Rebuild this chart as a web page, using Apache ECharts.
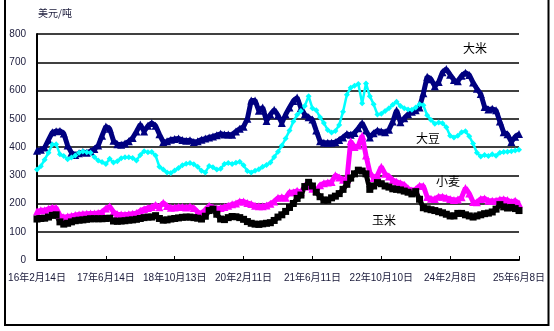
<!DOCTYPE html>
<html>
<head>
<meta charset="utf-8">
<script src="https://cdn.jsdelivr.net/npm/echarts@6/dist/echarts.min.js"></script>
<style>
  html, body { margin: 0; padding: 0; background: #fff; }
  #chart { width: 554px; height: 331px; }
</style>
</head>
<body>
<div id="chart"></div>
<script>
// Sampling: one value every 27 days starting 2016-02-14; axis spans 3402 days
const stepDays = 27;
const spanDays = 3402;
const tickStepDays = 486;
const tickLabels = ['16年2月14日', '17年6月14日', '18年10月13日', '20年2月11日',
  '21年6月11日', '22年10月10日', '24年2月8日', '25年6月8日'];

// Prices in USD per tonne
const riceValues = [
  387, 390, 398, 425, 452, 456, 457, 448, 405, 380,
  372, 378, 382, 380, 385, 393, 405, 440, 473, 465,
  422, 410, 408, 412, 420, 432, 455, 480, 455, 475,
  485, 475, 445, 418, 420, 426, 428, 430, 425, 422,
  424, 418, 420, 426, 430, 434, 437, 442, 447, 444,
  444, 443, 455, 465, 472, 500, 565, 565, 528, 540,
  492, 515, 532, 512, 485, 515, 540, 563, 575, 538,
  515, 505, 497, 458, 420, 415, 415, 415, 417, 425,
  434, 446, 443, 450, 466, 485, 458, 434, 449, 458,
  455, 452, 461, 490, 530, 488, 502, 516, 525, 530,
  540, 590, 649, 640, 615, 630, 665, 676, 656, 637,
  633, 652, 663, 655, 628, 606, 588, 542, 533, 535,
  530, 490, 452, 445, 418, 436, 446
];
const soybeanValues = [
  320, 332, 355, 380, 409, 410, 374, 368, 357, 363,
  370, 380, 384, 381, 380, 365, 352, 347, 340, 358,
  345, 350, 360, 364, 364, 361, 352, 372, 385, 381,
  382, 370, 330, 320, 310, 308, 317, 326, 335, 341,
  343, 339, 330, 316, 310, 333, 328, 320, 323, 340,
  343, 340, 344, 348, 335, 315, 310, 316, 321, 330,
  336, 345, 365, 383, 405, 430, 458, 490, 514, 527,
  545, 580, 537, 530, 505, 485, 460, 451, 457, 478,
  525, 585, 610, 617, 623, 555, 625, 580, 551, 515,
  518, 527, 537, 550, 560, 545, 537, 533, 532, 540,
  551, 548, 512, 496, 482, 487, 484, 470, 440, 434,
  440, 452, 456, 438, 412, 380, 366, 372, 368, 374,
  369, 380, 382, 383, 385, 388, 390
];
const wheatValues = [
  172, 176, 176, 181, 185, 184, 158, 151, 154, 156,
  159, 161, 163, 164, 165, 165, 166, 170, 182, 190,
  170, 162, 161, 160, 162, 164, 166, 174, 180, 184,
  188, 195, 187, 203, 191, 185, 186, 188, 188, 186,
  189, 184, 170, 165, 178, 192, 186, 182, 184, 188,
  192, 197, 200, 207, 207, 202, 198, 192, 190, 190,
  193, 199, 207, 220, 222, 220, 240, 240, 245, 240,
  262, 260, 252, 245, 265, 272, 274, 276, 300, 292,
  284, 283, 420, 400, 405, 440, 370, 310, 290, 300,
  330, 305, 296, 283, 277, 272, 266, 253, 246, 250,
  263, 262, 223, 217, 216, 224, 224, 220, 216, 212,
  214, 222, 255, 235, 205, 204, 216, 218, 210, 210,
  210, 214, 215, 212, 205, 210, 200
];
const cornValues = [
  145, 147, 148, 152, 158, 160, 135, 127, 130, 135,
  139, 141, 142, 144, 146, 146, 146, 146, 147, 148,
  138, 137, 138, 139, 141, 142, 144, 147, 150, 152,
  152, 157, 147, 141, 142, 145, 147, 149, 151, 152,
  152, 150, 148, 145, 155, 175, 180, 162, 145, 143,
  150, 154, 153, 150, 144, 136, 130, 127, 126, 128,
  130, 132, 140, 152, 160, 172, 186, 200, 218, 230,
  260, 275, 262, 240, 224, 212, 212, 220, 226, 235,
  250, 268, 290, 305, 318, 315, 305, 250, 262, 274,
  270, 262, 258, 252, 250, 248, 244, 240, 234, 242,
  215, 185, 181, 178, 175, 171, 167, 162, 156, 156,
  165, 165, 160, 156, 152, 156, 160, 164, 166, 170,
  180, 196, 188, 184, 186, 182, 175
];

function toPoints(values) {
  return values.map((v, i) => [i * stepDays, v]);
}

const fontLatin = '"Liberation Sans", Arial, "Noto Sans CJK SC", sans-serif';

function lineSeries(name, values, color, width, symbol, symbolSize) {
  return {
    name: name,
    type: 'line',
    data: toPoints(values),
    showSymbol: true,
    showAllSymbol: true,
    symbol: symbol,
    symbolSize: symbolSize,
    itemStyle: { color: color, borderWidth: 0 },
    lineStyle: { color: color, width: width },
    animation: false,
    z: 3
  };
}

const chart = echarts.init(document.getElementById('chart'), null, { renderer: 'canvas' });
chart.setOption({
  backgroundColor: '#ffffff',
  animation: false,
  grid: { left: 37, right: 35, top: 34, bottom: 71, containLabel: false },
  xAxis: {
    type: 'value',
    min: 0,
    max: spanDays,
    interval: tickStepDays,
    axisLine: { show: true, lineStyle: { color: '#000', width: 2 } },
    axisTick: { show: true, inside: true, length: 4, lineStyle: { color: '#000', width: 1 } },
    splitLine: { show: false },
    axisLabel: {
      color: '#1a1a3a',
      fontSize: 10,
      fontFamily: fontLatin,
      margin: 13,
      formatter: function (v) { return tickLabels[Math.round(v / tickStepDays)] || ''; }
    }
  },
  yAxis: {
    type: 'value',
    min: 0,
    max: 800,
    interval: 100,
    axisLine: { show: true, lineStyle: { color: '#000', width: 2 } },
    axisTick: { show: false },
    splitLine: { show: true, lineStyle: { color: '#000', width: 1.5 } },
    axisLabel: { color: '#1a1a3a', fontSize: 10, fontFamily: fontLatin, margin: 11 }
  },
  series: [
    lineSeries('大米', riceValues, '#000080', 5, 'triangle', 8),
    lineSeries('大豆', soybeanValues, '#00ffff', 2.5, 'diamond', 6),
    lineSeries('小麦', wheatValues, '#ff00ff', 5, 'triangle', 8),
    lineSeries('玉米', cornValues, '#000000', 5, 'rect', 7)
  ],
  graphic: [
    {
      type: 'polyline',
      shape: { points: [[5, 0], [5, 325], [548.5, 325], [548.5, 0]] },
      style: { stroke: '#000', lineWidth: 2, fill: null },
      silent: true
    },
    { type: 'text', x: 38, y: 8, style: { text: '美元/吨', fill: '#1a1a3a', font: '10px "Noto Sans CJK SC", sans-serif' } },
    { type: 'text', x: 463, y: 42, style: { text: '大米', fill: '#000', font: '12px "Noto Sans CJK SC", sans-serif' } },
    { type: 'text', x: 416, y: 132, style: { text: '大豆', fill: '#000', font: '12px "Noto Sans CJK SC", sans-serif' } },
    { type: 'text', x: 436, y: 175, style: { text: '小麦', fill: '#000', font: '12px "Noto Sans CJK SC", sans-serif' } },
    { type: 'text', x: 372, y: 214, style: { text: '玉米', fill: '#000', font: '12px "Noto Sans CJK SC", sans-serif' } }
  ]
});
</script>
</body>
</html>
